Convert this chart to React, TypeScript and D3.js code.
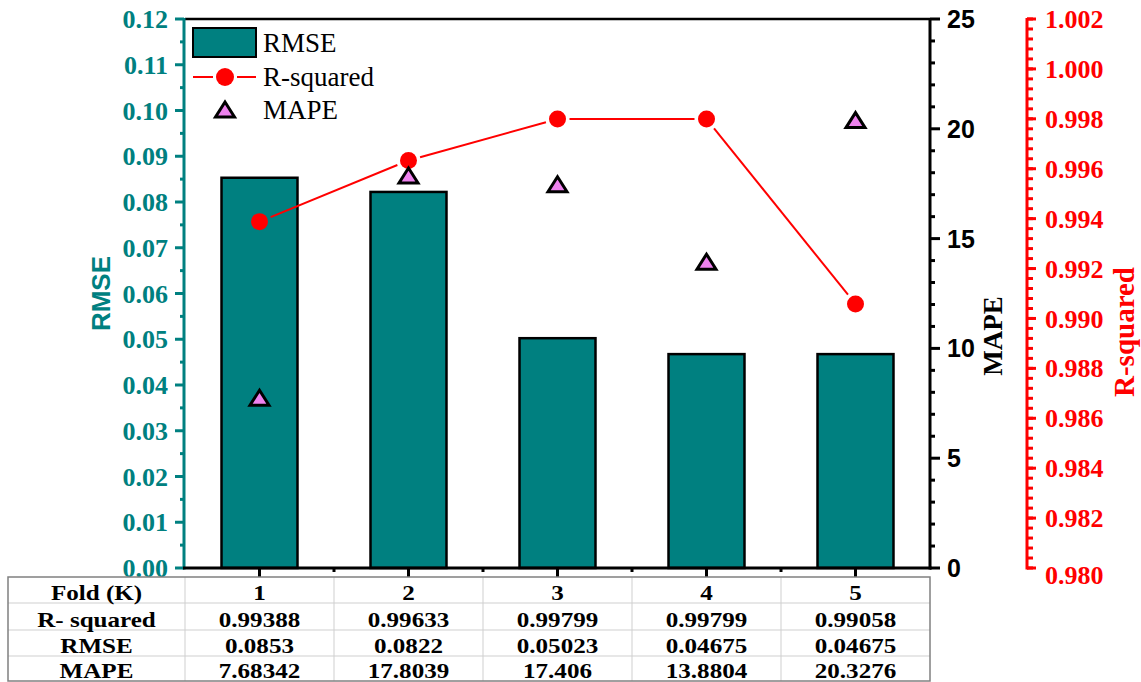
import React from "react";
import * as d3 from "d3";

// Cross-validation results per fold
const folds = [1, 2, 3, 4, 5];
const rSquared = [0.99388, 0.99633, 0.99799, 0.99799, 0.99058];
const rmse = [0.0853, 0.0822, 0.05023, 0.04675, 0.04675];
const mape = [7.68342, 17.8039, 17.406, 13.8804, 20.3276];

// Table text as printed
const rowLabels = ["Fold (K)", "R- squared", "RMSE", "MAPE"];
const rSquaredText = ["0.99388", "0.99633", "0.99799", "0.99799", "0.99058"];
const rmseText = ["0.0853", "0.0822", "0.05023", "0.04675", "0.04675"];
const mapeText = ["7.68342", "17.8039", "17.406", "13.8804", "20.3276"];

const W = 1141;
const H = 682;
const TEAL = "#008080";
const RED = "#ff0000";
const PINK = "#ee82ee";
const SERIF = "'Liberation Serif', 'Times New Roman', serif";
const SANS = "'Liberation Sans', Arial, sans-serif";

const left = 185;
const right = 930;
const top = 19;
const bottom = 568;

const x = d3.scaleLinear().domain([0.5, 5.5]).range([left, right]);
const yRmse = d3.scaleLinear().domain([0, 0.12]).range([bottom, top]);
const yMape = d3.scaleLinear().domain([0, 25]).range([bottom, top]);
const yR2 = d3.scaleLinear().domain([0.98, 1.002]).range([bottom, top]);

const barW = x(0.51) - x(0);

function tri(cx: number, cy: number) {
  return `M${cx},${cy - 9}L${cx + 9.5},${cy + 6}L${cx - 9.5},${cy + 6}Z`;
}

// Line segments between markers, stopping short of each marker
function gappedSegments(pts: [number, number][], gap: number) {
  const segs: [number, number, number, number][] = [];
  for (let i = 0; i < pts.length - 1; i++) {
    const [x1, y1] = pts[i];
    const [x2, y2] = pts[i + 1];
    const dx = x2 - x1;
    const dy = y2 - y1;
    const len = Math.hypot(dx, dy);
    const ux = dx / len;
    const uy = dy / len;
    segs.push([x1 + ux * gap, y1 + uy * gap, x2 - ux * gap, y2 - uy * gap]);
  }
  return segs;
}

export default function App() {
  const rmseMajor = yRmse.ticks(12);
  const rmseMinor = yRmse.ticks(24).filter((t) => !rmseMajor.some((m) => Math.abs(m - t) < 1e-9));
  const mapeMajor = yMape.ticks(5);
  const mapeMinor = yMape.ticks(25).filter((t) => t % 5 !== 0);
  const r2Major = d3.range(0, 12).map((i) => 0.98 + i * 0.002);
  const r2Minor = d3.range(0, 56).map((i) => 0.98 + i * 0.0004);

  const r2Pts: [number, number][] = folds.map((f, i) => [x(f), yR2(rSquared[i])]);
  const segs = gappedSegments(r2Pts, 12);

  const fmt2 = d3.format(".2f");
  const fmt3 = d3.format(".3f");

  // Table geometry
  const tLeft = 8;
  const rowsY = [577, 603, 630, 656, 681];
  const colX = [tLeft, ...folds.map((f) => x(f - 0.5)), x(5.5)];
  const tableRows = [folds.map(String), rSquaredText, rmseText, mapeText];

  const cellText = (cx: number, by: number, s: string, key: string) => (
    <text
      key={key}
      transform={`translate(${cx},${by}) scale(1.14,1)`}
      textAnchor="middle"
      fontFamily={SERIF}
      fontWeight="bold"
      fontSize={22}
      fill="#000"
    >
      {s}
    </text>
  );

  return (
    <svg
      width={W}
      height={H}
      style={{ position: "absolute", left: 0, top: 0, background: "#fff" }}
    >
      <rect x={0} y={0} width={W} height={H} fill="#fff" />

      {/* Bars: RMSE */}
      {folds.map((f, i) => (
        <rect
          key={`bar${f}`}
          x={x(f) - barW / 2}
          y={yRmse(rmse[i])}
          width={barW}
          height={bottom - yRmse(rmse[i])}
          fill={TEAL}
          stroke="#000"
          strokeWidth={2.5}
        />
      ))}

      {/* R-squared line and markers */}
      {segs.map((s, i) => (
        <line key={`seg${i}`} x1={s[0]} y1={s[1]} x2={s[2]} y2={s[3]} stroke={RED} strokeWidth={2} />
      ))}
      {r2Pts.map(([px, py], i) => (
        <circle key={`r2${i}`} cx={px} cy={py} r={8.5} fill={RED} />
      ))}

      {/* MAPE markers */}
      {folds.map((f, i) => (
        <path
          key={`mape${f}`}
          d={tri(x(f), yMape(mape[i]))}
          fill={PINK}
          stroke="#000"
          strokeWidth={3}
          strokeLinejoin="miter"
        />
      ))}

      {/* Frame top */}
      <line x1={left} x2={right} y1={top} y2={top} stroke="#000" strokeWidth={2.5} />

      {/* Left RMSE axis */}
      <line x1={left - 1} x2={left - 1} y1={top - 1} y2={bottom + 1.5} stroke={TEAL} strokeWidth={3} />
      {rmseMajor.map((t) => (
        <line key={`rM${t}`} x1={left - 10} x2={left - 1} y1={yRmse(t)} y2={yRmse(t)} stroke={TEAL} strokeWidth={3} />
      ))}
      {rmseMinor.map((t) => (
        <line key={`rm${t}`} x1={left - 5} x2={left - 1} y1={yRmse(t)} y2={yRmse(t)} stroke={TEAL} strokeWidth={3} />
      ))}
      {rmseMajor.map((t) => (
        <text
          key={`rl${t}`}
          x={168}
          y={yRmse(t)}
          dy="0.35em"
          textAnchor="end"
          fontFamily={SERIF}
          fontWeight="bold"
          fontSize={26}
          fill={TEAL}
        >
          {fmt2(t)}
        </text>
      ))}
      <text
        transform={`translate(110,${(top + bottom) / 2}) rotate(-90)`}
        textAnchor="middle"
        fontFamily={SANS}
        fontWeight="bold"
        fontSize={26}
        fill={TEAL}
      >
        RMSE
      </text>

      {/* Bottom axis */}
      <line x1={left - 2} x2={right + 1.5} y1={bottom} y2={bottom} stroke="#000" strokeWidth={3} />
      {folds.map((f) => (
        <line key={`xM${f}`} x1={x(f)} x2={x(f)} y1={bottom} y2={577} stroke="#000" strokeWidth={3} />
      ))}
      {d3.range(1, 5).map((i) => (
        <line key={`xm${i}`} x1={x(i + 0.5)} x2={x(i + 0.5)} y1={bottom} y2={bottom + 4} stroke="#000" strokeWidth={3} />
      ))}

      {/* Right MAPE axis */}
      <line x1={right} x2={right} y1={top - 1} y2={bottom + 1.5} stroke="#000" strokeWidth={3} />
      {mapeMajor.map((t) => (
        <line key={`mM${t}`} x1={right} x2={right + 10} y1={yMape(t)} y2={yMape(t)} stroke="#000" strokeWidth={3} />
      ))}
      {mapeMinor.map((t) => (
        <line key={`mm${t}`} x1={right} x2={right + 5} y1={yMape(t)} y2={yMape(t)} stroke="#000" strokeWidth={3} />
      ))}
      {mapeMajor.map((t) => (
        <text
          key={`ml${t}`}
          x={947}
          y={yMape(t)}
          dy="0.36em"
          textAnchor="start"
          fontFamily={SANS}
          fontWeight="bold"
          fontSize={25}
          fill="#000"
        >
          {t}
        </text>
      ))}
      <text
        transform={`translate(1002,336) rotate(-90)`}
        textAnchor="middle"
        fontFamily={SERIF}
        fontWeight="bold"
        fontSize={27}
        fill="#000"
      >
        MAPE
      </text>

      {/* Offset R-squared axis */}
      <line x1={1027} x2={1027} y1={yR2(1.002) - 1} y2={yR2(0.98) + 1.5} stroke={RED} strokeWidth={3} />
      {r2Minor.map((t, i) => (
        <line key={`qm${i}`} x1={1027} x2={1033} y1={yR2(t)} y2={yR2(t)} stroke={RED} strokeWidth={3} />
      ))}
      {r2Major.map((t, i) => (
        <line key={`qM${i}`} x1={1027} x2={1036} y1={yR2(t)} y2={yR2(t)} stroke={RED} strokeWidth={3} />
      ))}
      {r2Major.map((t, i) => (
        <text
          key={`ql${i}`}
          x={1045}
          y={yR2(t)}
          dy={i === 0 ? "0.6em" : "0.35em"}
          textAnchor="start"
          fontFamily={SERIF}
          fontWeight="bold"
          fontSize={26}
          fill={RED}
        >
          {fmt3(t)}
        </text>
      ))}
      <text
        transform={`translate(1134,332) rotate(-90)`}
        textAnchor="middle"
        fontFamily={SERIF}
        fontWeight="bold"
        fontSize={29}
        fill={RED}
      >
        R-squared
      </text>

      {/* Legend */}
      <rect x={193} y={28} width={63} height={29} fill={TEAL} stroke="#000" strokeWidth={2} />
      <text x={263} y={52} fontFamily={SERIF} fontSize={27} fill="#000">
        RMSE
      </text>
      <line x1={193} x2={213} y1={77} y2={77} stroke={RED} strokeWidth={2} />
      <line x1={237} x2={256} y1={77} y2={77} stroke={RED} strokeWidth={2} />
      <circle cx={225} cy={77} r={9} fill={RED} />
      <text x={263} y={86} fontFamily={SERIF} fontSize={27} fill="#000">
        R-squared
      </text>
      <path d={tri(225, 111)} fill={PINK} stroke="#000" strokeWidth={3} />
      <text x={263} y={119} fontFamily={SERIF} fontSize={27} fill="#000">
        MAPE
      </text>

      {/* Data table */}
      {rowsY.slice(1, -1).map((yy) => (
        <line key={`hr${yy}`} x1={tLeft} x2={right} y1={yy} y2={yy} stroke="#cfcfcf" strokeWidth={1} />
      ))}
      {colX.slice(1, -1).map((xx, i) => (
        <line key={`vr${i}`} x1={xx} x2={xx} y1={rowsY[0]} y2={rowsY[4]} stroke="#cfcfcf" strokeWidth={1} />
      ))}
      <rect
        x={tLeft}
        y={rowsY[0]}
        width={right - tLeft}
        height={rowsY[4] - rowsY[0]}
        fill="none"
        stroke="#808080"
        strokeWidth={1.5}
      />
      {rowLabels.map((lab, r) =>
        cellText((colX[0] + colX[1]) / 2, rowsY[r + 1] - 3, lab, `lab${r}`)
      )}
      {tableRows.map((row, r) =>
        row.map((s, c) => cellText((colX[c + 1] + colX[c + 2]) / 2, rowsY[r + 1] - 3, s, `c${r}_${c}`))
      )}
    </svg>
  );
}
